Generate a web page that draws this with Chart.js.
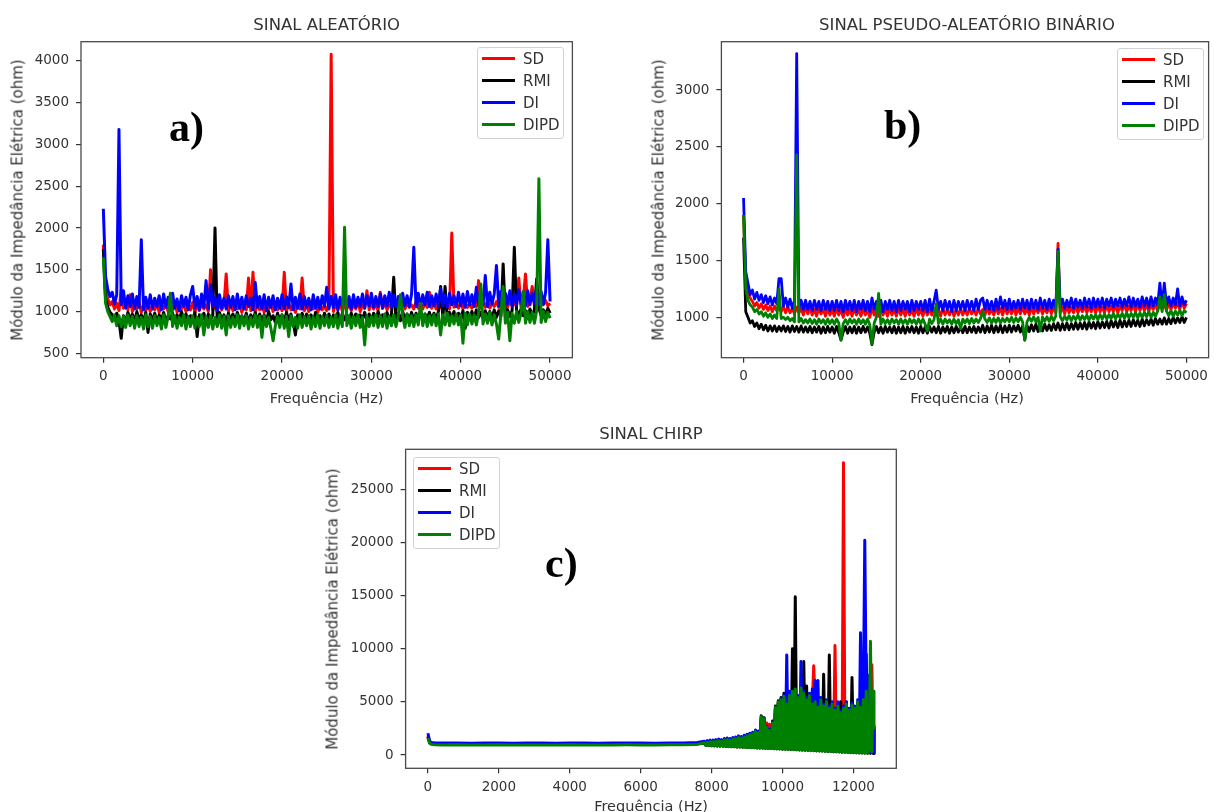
<!DOCTYPE html>
<html><head><meta charset="utf-8">
<script src="https://cdn.jsdelivr.net/npm/chart.js@4.4.0/dist/chart.umd.min.js"></script>
<style>
html,body{margin:0;padding:0;background:#fff;}
body{width:1214px;height:812px;position:relative;overflow:hidden;font-family:"DejaVu Sans",sans-serif;color:#333;}
canvas{position:absolute;}
.t{position:absolute;white-space:nowrap;line-height:1;transform:translate(-50%,-50%);}
.yl{position:absolute;white-space:nowrap;line-height:1;transform:translate(-50%,-50%) rotate(-90deg);font-size:15px;}
.xl{font-size:14.5px;}
.ti{font-size:16.5px;}
.lab{position:absolute;font-family:"Liberation Serif","Times New Roman",serif;font-weight:bold;font-size:42px;line-height:1;color:#000;white-space:nowrap;}
.leg{position:absolute;width:87px;height:92px;border:1px solid #d3d3d3;border-radius:3px;background:rgba(255,255,255,0.85);box-sizing:border-box;}
.ll{position:absolute;left:4px;width:33px;height:3px;}
.lt{position:absolute;left:45px;font-size:15px;line-height:1;transform:translateY(-50%);color:#333;}
</style>
</head><body>
<canvas id="ca" width="600" height="410" style="left:0;top:0;width:600px;height:410px"></canvas>
<canvas id="cb" width="594" height="410" style="left:620px;top:0;width:594px;height:410px"></canvas>
<canvas id="cc" width="620" height="397" style="left:300px;top:415px;width:620px;height:397px"></canvas>

<div class="t ti" style="left:326.7px;top:25px">SINAL ALEATÓRIO</div>
<div class="t ti" style="left:967px;top:25px">SINAL PSEUDO-ALEATÓRIO BINÁRIO</div>
<div class="t ti" style="left:651px;top:434px">SINAL CHIRP</div>
<div class="t xl" style="left:326.7px;top:397.5px">Frequência (Hz)</div>
<div class="t xl" style="left:967px;top:397.5px">Frequência (Hz)</div>
<div class="t xl" style="left:651px;top:806px">Frequência (Hz)</div>
<div class="yl" style="left:18px;top:200px">Módulo da Impedância Elétrica (ohm)</div>
<div class="yl" style="left:658.7px;top:200px">Módulo da Impedância Elétrica (ohm)</div>
<div class="yl" style="left:333px;top:609px">Módulo da Impedância Elétrica (ohm)</div>
<div class="lab" style="left:169px;top:105.8px">a)</div>
<div class="lab" style="left:884px;top:103.8px">b)</div>
<div class="lab" style="left:545px;top:541.8px">c)</div>

<script>
const seriesNames = ['SD','RMI','DI','DIPD'];
const seriesColors = ['#ff0000','#000000','#0000ff','#008000'];
const ticksXab = [0,10000,20000,30000,40000,50000];
const ticksYa = [500,1000,1500,2000,2500,3000,3500,4000];
const ticksYb = [1000,1500,2000,2500,3000];
const ticksXc = [0,2000,4000,6000,8000,10000,12000];
const ticksYc = [0,5000,10000,15000,20000,25000];

const freqAB = [
0,250,500,750,1000,1250,1500,1750,2000,2250,2500,2750,3000,3250,3500,3750,4000,4250,4500,4750,
5000,5250,5500,5750,6000,6250,6500,6750,7000,7250,7500,7750,8000,8250,8500,8750,9000,9250,9500,9750,
10000,10250,10500,10750,11000,11250,11500,11750,12000,12250,12500,12750,13000,13250,13500,13750,14000,14250,14500,14750,
15000,15250,15500,15750,16000,16250,16500,16750,17000,17250,17500,17750,18000,18250,18500,18750,19000,19250,19500,19750,
20000,20250,20500,20750,21000,21250,21500,21750,22000,22250,22500,22750,23000,23250,23500,23750,24000,24250,24500,24750,
25000,25250,25500,25750,26000,26250,26500,26750,27000,27250,27500,27750,28000,28250,28500,28750,29000,29250,29500,29750,
30000,30250,30500,30750,31000,31250,31500,31750,32000,32250,32500,32750,33000,33250,33500,33750,34000,34250,34500,34750,
35000,35250,35500,35750,36000,36250,36500,36750,37000,37250,37500,37750,38000,38250,38500,38750,39000,39250,39500,39750,
40000,40250,40500,40750,41000,41250,41500,41750,42000,42250,42500,42750,43000,43250,43500,43750,44000,44250,44500,44750,
45000,45250,45500,45750,46000,46250,46500,46750,47000,47250,47500,47750,48000,48250,48500,48750,49000,49250,49500,49750,
50000];

// ---- a) SINAL ALEATÓRIO ----
const aSD = [
1800,1250,1150,1080,1120,1030,1100,1010,1260,1040,
1110,1020,1200,1000,1090,1030,1120,990,1080,1010,
1100,1000,1070,1020,1110,990,1080,1030,1100,1000,
1090,1010,1120,990,1070,1030,1100,1000,1080,1020,
1110,990,1090,1010,1100,1030,1080,1000,1500,1020,
1090,1000,1110,1020,1080,1450,1000,1100,1010,1070,
1030,1100,990,1080,1020,1400,1010,1470,1000,1090,
1020,1110,990,1080,1030,1100,1000,1070,1020,1090,
1010,1470,1000,1100,1020,1080,990,1110,1030,1400,
1010,1090,1000,1080,1030,1110,990,1090,1020,1070,
1010,1100,4080,1000,1090,1020,1110,1000,1080,1030,
1100,1010,1090,1030,1120,1000,1080,1040,1250,1020,
1110,1030,1090,1010,1230,1040,1100,1020,1080,1050,
1110,1020,1090,1040,1120,1030,1100,1050,1080,1030,
1120,1040,1100,1030,1110,1050,1230,1040,1100,1030,
1120,1050,1090,1040,1110,1030,1940,1050,1100,1040,
1120,1030,1110,1050,1090,1040,1130,1060,1370,1040,
1110,1050,1130,1040,1100,1060,1120,1050,1140,1060,
1110,1050,1130,1070,1100,1060,1400,1050,1130,1450,
1060,1120,1300,1070,1140,1060,1110,1080,1130,1070,
1100];
const aRMI = [
1750,1150,1050,990,960,900,980,890,680,950,
880,990,910,970,870,1000,900,960,880,990,
750,970,890,980,870,960,900,990,880,950,
910,980,870,960,890,1000,880,970,900,950,
880,990,700,960,890,980,870,970,900,960,
2000,880,990,900,960,870,980,890,970,880,
990,900,950,880,980,870,960,900,990,880,
970,890,960,880,1000,900,950,870,980,890,
960,880,990,900,970,870,720,960,890,980,
880,970,900,960,870,990,890,950,880,980,
900,970,880,960,890,990,870,980,900,960,
890,980,900,970,880,960,910,990,890,970,
900,980,890,1000,910,960,880,990,900,970,
1410,900,980,890,1000,910,970,900,990,890,
980,910,1000,900,970,920,990,900,980,910,
1000,1300,920,1300,910,990,920,1000,900,980,
920,1010,800,990,920,1000,910,1020,930,990,
920,1010,930,1000,920,1020,930,1010,940,1570,
930,1020,940,1010,1770,1020,940,1030,950,1010,
940,1030,950,1020,1390,1040,950,1020,960,1040,
980];
const aDI = [
2230,1420,1260,1180,1230,1090,1200,3180,1080,1250,
1040,1190,1060,1210,1030,1180,1050,1860,1020,1170,
1040,1200,1030,1160,1060,1190,1020,1210,1050,1170,
1030,1220,1040,1150,1010,1190,1060,1170,1020,1200,
1300,1040,1180,1020,1210,1050,1370,1030,1320,1060,
1170,1010,1200,1040,1160,1030,1190,1050,1180,1020,
1210,1040,1170,1030,1190,1060,1160,1020,1350,1050,
1180,1030,1200,1010,1170,1050,1190,1020,1160,1040,
1200,1030,1180,1050,1330,1020,1170,1040,1210,1030,
1180,1050,1160,1020,1200,1040,1170,1030,1190,1060,
1290,1030,1180,1050,1200,1020,1170,1060,1210,1040,
1180,1030,1200,1050,1170,1060,1210,1040,1190,1070,
1220,1050,1180,1060,1210,1040,1190,1070,1230,1050,
1200,1060,1180,1050,1220,1070,1190,1060,1210,1770,
1060,1220,1050,1200,1080,1230,1060,1190,1070,1210,
1060,1280,1070,1200,1050,1220,1080,1190,1060,1230,
1070,1210,1050,1240,1080,1200,1060,1290,1070,1220,
1080,1430,1060,1230,1090,1210,1550,1070,1240,1080,
1220,1090,1250,1070,1210,1080,1260,1090,1230,1070,
1250,1080,1220,1100,1270,1080,1240,1090,1230,1860,
1120];
const aDIPD = [
1650,1100,1000,940,880,960,830,950,820,940,
810,960,830,940,800,950,820,930,790,960,
820,940,800,950,830,930,790,960,810,940,
1220,820,950,800,930,830,960,790,940,820,
950,800,930,820,960,720,940,810,950,790,
930,820,960,800,940,720,950,810,930,820,
960,800,940,830,950,790,930,820,960,810,
940,690,950,820,930,800,650,830,940,810,
960,800,940,700,950,820,930,800,960,810,
940,830,950,790,930,820,960,800,940,830,
950,810,930,820,960,800,940,820,2010,830,
950,800,940,830,960,810,930,600,950,820,
940,830,960,810,950,820,970,800,940,830,
960,820,940,1200,950,810,970,830,950,820,
960,840,1100,830,970,820,950,840,960,830,
970,720,960,840,980,830,950,850,970,840,
960,620,980,840,970,850,960,840,980,1330,
850,970,860,990,840,960,850,670,980,1300,
860,990,650,980,860,1000,870,980,1240,860,
1000,870,990,860,1010,2590,870,1000,880,990,
920];

// ---- b) SINAL PSEUDO-ALEATÓRIO BINÁRIO ----
const bSD = [
1900,1300,1200,1170,1140,1100,1130,1080,1120,1070,
1110,1060,1100,1050,1100,1060,1090,1050,1100,1040,
1090,1040,1080,1030,1090,1040,1080,1020,1090,1030,
1080,1020,1070,1010,1080,1030,1070,1010,1080,1020,
1070,1010,1080,1020,1070,1000,1080,1020,1070,1010,
1080,1020,1070,1010,1080,1020,1070,1000,1080,1020,
1070,1010,1080,1020,1070,1010,1080,1020,1070,1010,
1080,1020,1070,1010,1080,1020,1070,1010,1080,1020,
1070,1010,1080,1020,1070,1020,1080,1020,1070,1010,
1080,1020,1070,1020,1080,1010,1070,1020,1080,1020,
1070,1020,1080,1030,1070,1020,1080,1030,1070,1020,
1080,1030,1070,1020,1090,1030,1080,1020,1090,1030,
1080,1030,1090,1020,1080,1030,1090,1030,1080,1020,
1090,1030,1080,1040,1090,1030,1080,1040,1090,1030,
1090,1040,1650,1040,1090,1030,1100,1040,1090,1040,
1100,1040,1090,1050,1100,1040,1090,1050,1100,1040,
1100,1050,1090,1040,1110,1050,1100,1050,1110,1040,
1100,1060,1110,1050,1100,1060,1110,1050,1120,1060,
1110,1060,1120,1050,1110,1070,1120,1060,1130,1070,
1120,1060,1130,1070,1120,1080,1130,1070,1140,1080,
1120];
const bRMI = [
1700,1050,1000,950,970,920,950,900,940,890,
930,880,925,880,925,875,920,880,925,875,
920,870,925,875,920,870,925,870,915,870,
920,865,915,870,920,860,915,865,920,870,
915,860,920,865,800,870,920,860,915,865,
920,860,915,865,920,870,915,860,760,870,
920,865,915,860,920,870,915,865,920,860,
915,865,920,860,915,870,920,865,915,860,
920,865,915,860,920,870,915,865,920,860,
915,870,920,860,915,865,920,870,915,865,
920,865,915,870,920,865,915,870,930,865,
925,870,930,865,925,870,930,865,925,870,
930,870,925,880,930,870,925,800,930,875,
935,880,940,875,935,880,940,885,935,885,
945,890,950,885,945,890,950,890,945,895,
955,895,950,900,955,895,960,905,955,900,
965,905,960,910,965,905,970,915,965,910,
975,915,970,920,975,920,980,925,975,920,
985,925,980,935,985,930,990,940,985,940,
995,940,990,945,1000,950,995,955,1005,955,
1000];
const bDI = [
2050,1400,1300,1200,1240,1160,1220,1150,1200,1130,
1190,1120,1180,1110,1170,1120,1340,1340,1100,1170,
1090,1160,1080,1150,3320,1080,1150,1070,1150,1070,
1140,1060,1150,1070,1140,1060,1150,1070,1140,1060,
1140,1060,1150,1060,1140,1050,1150,1070,1140,1060,
1150,1050,1140,1070,1150,1060,1140,1050,1170,1070,
1140,1060,1150,1050,1140,1070,1150,1060,1140,1050,
1150,1060,1140,1070,1140,1050,1150,1060,1140,1070,
1140,1060,1150,1050,1160,1060,1140,1240,1070,1140,
1060,1150,1070,1140,1050,1150,1060,1140,1070,1140,
1060,1150,1070,1140,1060,1160,1070,1150,1170,1070,
1150,1070,1140,1060,1160,1070,1180,1080,1150,1070,
1160,1070,1140,1080,1150,1070,1160,1080,1150,1070,
1160,1080,1150,1070,1170,1080,1150,1070,1160,1080,
1150,1080,1600,1090,1160,1080,1150,1090,1170,1080,
1160,1090,1150,1080,1170,1090,1160,1080,1170,1090,
1160,1090,1170,1080,1160,1100,1170,1090,1160,1100,
1170,1090,1160,1100,1180,1090,1170,1100,1160,1090,
1180,1100,1170,1090,1180,1100,1170,1110,1300,1100,
1300,1110,1180,1100,1170,1110,1250,1100,1180,1110,
1150];
const bDIPD = [
1900,1250,1150,1110,1090,1050,1070,1030,1050,1010,
1040,1000,1030,990,1020,990,1250,990,1000,980,
1000,970,990,960,2430,960,990,950,980,950,
985,945,980,940,985,950,980,940,985,945,
980,940,985,950,800,945,980,940,985,950,
980,940,985,945,980,940,985,935,770,950,
1000,1210,940,985,945,980,940,985,950,980,
940,985,945,980,940,985,950,980,940,985,
945,985,940,880,985,945,980,1120,945,985,
940,985,950,980,940,985,945,980,900,985,
950,985,945,990,950,985,955,990,1050,985,
955,995,950,990,955,995,950,990,960,995,
960,1000,955,995,960,1000,960,800,960,1000,
965,1005,960,1000,880,1005,965,1005,965,1010,
970,1010,1580,1005,970,1010,975,1015,970,1010,
980,1020,975,1015,980,1020,975,1020,985,1025,
980,1025,985,1030,985,1025,990,1035,985,1030,
995,1035,990,1040,995,1035,1000,1045,995,1040,
1000,1045,1005,1050,1000,1045,1010,1055,1180,1050,
1200,1055,1015,1060,1010,1055,1020,1065,1015,1060,
1040];

// ---- c) SINAL CHIRP ----
const freqC = [
0,50,100,200,400,800,1200,1600,2000,2400,
2800,3200,3600,4000,4400,4800,5200,5600,6000,6400,
6800,7200,7600,
7800,7840,7880,7920,7960,8000,8040,8080,8120,8160,
8200,8240,8280,8320,8360,8400,8440,8480,8520,8560,
8600,8640,8680,8720,8760,8800,8840,8880,8920,8960,
9000,9040,9080,9120,9160,9200,9240,9280,9320,9360,
9400,9440,9480,9520,9560,9600,9640,9680,9720,9760,
9800,9840,9880,9920,9960,10000,10040,10080,10120,10160,
10200,10240,10280,10320,10360,10400,10440,10480,10520,10560,
10600,10640,10680,10720,10760,10800,10840,10880,10920,10960,
11000,11040,11080,11120,11160,11200,11240,11280,11320,11360,
11400,11440,11480,11520,11560,11600,11640,11680,11720,11760,
11800,11840,11880,11920,11960,12000,12040,12080,12120,12160,
12200,12240,12280,12320,12360,12400,12440,12480,12520,12560,
12580];
const cSD = [
1800,1200,1100,1060,1050,1060,1040,1050,1060,1040,
1050,1050,1040,1060,1050,1040,1050,1060,1050,1040,
1060,1070,1100,
1200,930,1250,910,1300,900,1300,890,1350,870,
1400,860,1350,850,1450,830,1500,820,1450,810,
1550,800,1600,780,1700,770,1650,760,1750,740,
1850,730,1950,720,2050,710,2250,690,2150,680,
3500,670,3300,650,3000,640,2900,630,2800,610,
4400,600,4900,590,5300,570,5400,560,4700,550,
5500,530,5900,520,6000,510,5300,490,6200,480,
5700,470,5100,450,5500,440,4900,8400,4900,410,
4400,400,5100,390,4500,370,4900,360,4300,350,
4700,330,10300,320,4500,310,3900,290,27500,280,
4700,270,4100,250,4600,240,4300,230,4900,220,
4400,210,8800,200,5900,190,5300,180,8500,170,
2800];
const cRMI = [
1700,1150,1050,1010,1000,1010,990,1000,1010,990,
1000,1000,990,1010,1000,990,1000,1010,1000,990,
1010,1020,1050,
1100,900,1150,890,1200,870,1200,860,1250,850,
1300,840,1250,830,1350,810,1400,800,1350,790,
1450,780,1500,760,1600,750,1550,740,1650,720,
1750,710,1850,700,1950,690,2150,670,2050,660,
3700,650,3500,630,2500,620,2200,610,3200,590,
4600,580,5100,570,5400,550,5800,540,4900,530,
5700,510,10000,500,14900,490,5500,470,6200,460,
8800,450,6500,430,5500,420,4700,410,4900,390,
4400,380,5000,370,7600,350,4900,340,9400,330,
4700,310,4100,300,4500,290,5000,270,4300,260,
5000,250,4100,240,7300,220,4300,210,4900,200,
4400,190,5100,180,9500,170,5300,160,6000,150,
2700];
const cDI = [
2050,1300,1180,1140,1120,1130,1110,1120,1130,1110,
1120,1120,1110,1130,1120,1110,1120,1130,1120,1110,
1130,1140,1170,
1300,950,1350,930,1400,920,1400,900,1450,890,
1500,880,1450,870,1550,850,1600,840,1550,830,
1650,820,1700,800,1800,790,1750,780,1850,760,
1950,750,2050,740,2150,730,2350,710,2250,700,
3300,690,3500,670,2700,660,2400,650,3100,630,
4300,620,4800,610,5300,590,5600,580,9400,570,
6000,550,5800,540,5900,530,5600,510,8800,500,
6000,490,5400,470,5800,460,6200,450,7000,430,
7000,420,5400,410,4800,390,5200,380,4600,370,
5000,350,4400,340,5000,330,4200,310,4600,300,
5000,290,4400,270,4900,260,4600,250,5200,240,
11500,230,5400,20200,6200,210,7500,200,5500,190,
2600];
const cDIPD = [
1600,1100,1000,960,950,960,940,950,960,940,
950,950,940,960,950,940,950,960,950,940,
960,970,1000,
1150,900,1200,880,1250,870,1250,860,1300,840,
1350,830,1300,820,1400,800,1450,790,1400,780,
1500,770,1550,750,1650,740,1600,730,1700,710,
1800,700,1900,690,2000,680,2200,660,2100,650,
3600,640,3400,620,2600,610,2300,600,3000,580,
4500,570,5000,560,5200,540,5500,530,4800,520,
5600,500,6000,490,6200,480,5400,460,6300,450,
5800,440,5200,420,5600,410,4800,400,5000,380,
4500,370,5200,360,4600,340,5000,330,4400,320,
4800,300,4200,290,4600,280,4000,260,4400,250,
4800,240,4200,220,4700,210,4400,200,5000,190,
4500,180,5200,170,6000,160,500,10700,300,6000,
2500];

function pts(freq, vals){ return vals.map((v,i)=>({x:freq[i], y:v})); }

const framePlugin = {
  id:'frame',
  afterDatasetsDraw(chart){
    const {ctx, chartArea:a} = chart;
    ctx.save();
    ctx.strokeStyle = '#4a4a4a';
    ctx.lineWidth = 1.3;
    ctx.strokeRect(a.left, a.top, a.right - a.left, a.bottom - a.top);
    ctx.restore();
  }
};

function axisCommon(ticks, pad){
  return {
    afterBuildTicks: s => { s.ticks = ticks.map(v => ({value:v})); },
    grid:{display:true, drawOnChartArea:false, drawTicks:true, tickLength:5, color:'#333', lineWidth:1.2},
    border:{display:false},
    ticks:{color:'#333', font:{family:'DejaVu Sans', size:13.5}, padding:pad, autoSkip:false, maxRotation:0, callback: v => String(v)}
  };
}

function build(id, freq, series, cfg){
  new Chart(document.getElementById(id), {
    type:'line',
    data:{datasets: series.map((vals,i)=>({
      label: seriesNames[i], data: pts(freq, vals),
      borderColor: seriesColors[i], backgroundColor: seriesColors[i],
      borderWidth: cfg.lw, pointRadius: 0, pointHoverRadius: 0, tension: 0, fill: false,
      borderJoinStyle: 'round', order: 4 - i
    }))},
    options:{
      responsive:false, animation:false, devicePixelRatio:1, parsing:false, normalized:true, events:[],
      layout:{padding:{left:0, top:cfg.padTop, right:cfg.padRight, bottom:0}},
      plugins:{legend:{display:false}, tooltip:{enabled:false}, title:{display:false}},
      scales:{
        x: Object.assign({type:'linear', min:cfg.xmin, max:cfg.xmax, afterFit: s => { s.height = cfg.xH; }}, axisCommon(cfg.xt, 6)),
        y: Object.assign({type:'linear', min:cfg.ymin, max:cfg.ymax, afterFit: s => { s.width = cfg.yW; }}, axisCommon(cfg.yt, 7))
      }
    },
    plugins:[framePlugin]
  });
}

build('ca', freqAB, [aSD, aRMI, aDI, aDIPD], {xmin:-2500, xmax:52500, ymin:447, ymax:4231, xt:ticksXab, yt:ticksYa, padTop:41.7, padRight:27.6, yW:81, xH:52.3, lw:3});
build('cb', freqAB, [bSD, bRMI, bDI, bDIPD], {xmin:-2500, xmax:52500, ymin:645, ymax:3425, xt:ticksXab, yt:ticksYb, padTop:41.7, padRight:1.5, yW:101.4, xH:52.3, lw:2.8});
build('cc', freqC, [cSD, cRMI, cDI, cDIPD], {xmin:-629, xmax:13209, ymin:-1251, ymax:28764, xt:ticksXc, yt:ticksYc, padTop:34.3, padRight:23.7, yW:105.6, xH:43.7, lw:3});

function addLegend(left, top){
  const box = document.createElement('div');
  box.className = 'leg';
  box.style.left = left + 'px';
  box.style.top = top + 'px';
  seriesNames.forEach((n,i)=>{
    const y = 10.5 + 22*i;
    const ln = document.createElement('div');
    ln.className = 'll'; ln.style.top = (9 + 22*i) + 'px'; ln.style.background = seriesColors[i];
    const tx = document.createElement('div');
    tx.className = 'lt'; tx.style.top = y + 'px'; tx.textContent = n;
    box.appendChild(ln); box.appendChild(tx);
  });
  document.body.appendChild(box);
}
addLegend(477, 47);
addLegend(1117, 48);
addLegend(413, 457);
</script>
</body></html>
